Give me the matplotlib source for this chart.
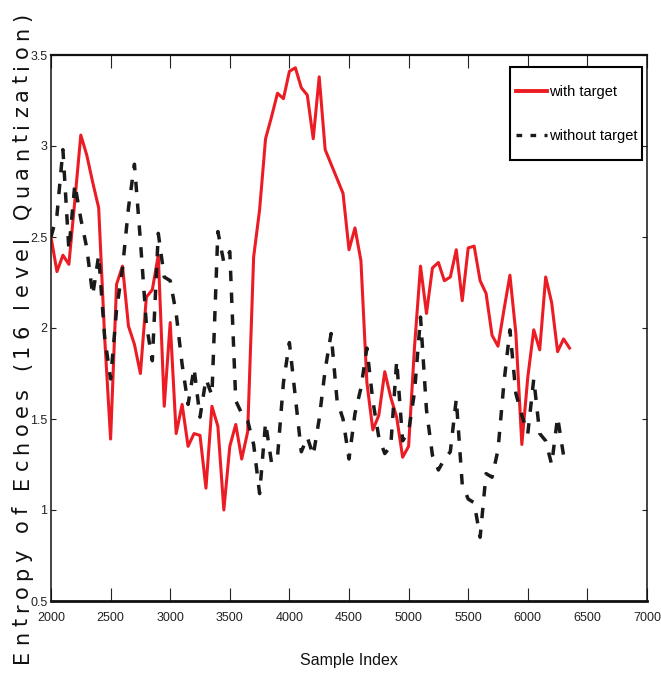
import numpy as np
import matplotlib
matplotlib.use("Agg")
import matplotlib.pyplot as plt
from matplotlib.lines import Line2D
from matplotlib.patches import Rectangle
from matplotlib.font_manager import FontProperties, findfont
from matplotlib.ft2font import FT2Font

W, H = 661, 679

# Sample index grid (every 50 samples from 2000)
x_start, x_step = 2000, 50

with_target = [
    2.50, 2.31, 2.40, 2.35, 2.70, 3.06, 2.95, 2.80, 2.66, 1.95,
    1.39, 2.24, 2.34, 2.01, 1.91, 1.75, 2.17, 2.21, 2.40, 1.57,
    2.03, 1.42, 1.58, 1.35, 1.42, 1.41, 1.12, 1.57, 1.46, 1.00,
    1.35, 1.47, 1.28, 1.43, 2.39, 2.65, 3.04, 3.16, 3.29, 3.26,
    3.41, 3.43, 3.32, 3.28, 3.04, 3.38, 2.98, 2.90, 2.82, 2.74,
    2.43, 2.55, 2.37, 1.70, 1.44, 1.52, 1.76, 1.62, 1.51, 1.29,
    1.35, 1.90, 2.34, 2.08, 2.33, 2.36, 2.26, 2.28, 2.43, 2.15,
    2.44, 2.45, 2.26, 2.19, 1.96, 1.90, 2.10, 2.29, 1.97, 1.36,
    1.73, 1.99, 1.88, 2.28, 2.14, 1.87, 1.94, 1.89,
]

without_target = [
    2.50, 2.62, 2.98, 2.43, 2.79, 2.60, 2.44, 2.18, 2.40, 1.95,
    1.72, 2.10, 2.33, 2.66, 2.90, 2.48, 2.02, 1.82, 2.52, 2.28,
    2.26, 2.08, 1.80, 1.58, 1.78, 1.51, 1.72, 1.63, 2.53, 2.36,
    2.42, 1.60, 1.53, 1.49, 1.36, 1.09, 1.48, 1.26, 1.29, 1.70,
    1.92, 1.62, 1.32, 1.40, 1.30, 1.50, 1.77, 1.97, 1.60, 1.50,
    1.28, 1.53, 1.67, 1.89, 1.60, 1.40, 1.31, 1.35, 1.82, 1.38,
    1.43, 1.65, 2.06, 1.55, 1.30, 1.22, 1.28, 1.32, 1.61, 1.14,
    1.06, 1.04, 0.85, 1.20, 1.18, 1.33, 1.70, 1.99, 1.64, 1.52,
    1.42, 1.72, 1.42, 1.38, 1.25, 1.51, 1.30, 1.33,
]

x_ticks = [2000, 2500, 3000, 3500, 4000, 4500, 5000, 5500, 6000, 6500, 7000]
y_ticks = [0.5, 1.0, 1.5, 2.0, 2.5, 3.0, 3.5]
y_tick_labels = ["0.5", "1", "1.5", "2", "2.5", "3", "3.5"]
x_label = "Sample Index"
y_label = "Entropy of Echoes (16 level Quantization)"
legend_labels = ["with target", "without target"]

RED = "#ec1c24"
DARK = "#1a1a1a"
narrow = ["Liberation Sans Narrow", "Liberation Sans", "DejaVu Sans"]

fig = plt.figure(figsize=(W / 100, H / 100), dpi=100)
ax = fig.add_axes([51 / W, 1 - 601 / H, 596 / W, 546 / H])

x = x_start + x_step * np.arange(len(with_target))
ax.plot(x, with_target, color=RED, lw=2.2, solid_joinstyle="round")
ax.plot(x, without_target, color=DARK, lw=2.5, linestyle=(0, (3.0, 3.3)),
        dash_capstyle="butt")

ax.set_xlim(2000, 7000)
ax.set_ylim(0.5, 3.5)
ax.set_xticks(x_ticks)
ax.set_xticklabels([str(t) for t in x_ticks])
ax.set_yticks(y_ticks)
ax.set_yticklabels(y_tick_labels)

ax.tick_params(direction="in", top=True, right=True, width=0.8, colors="#222222")
ax.tick_params(axis="x", length=9.4, pad=8, labelsize=9)
ax.tick_params(axis="y", length=3.6, pad=2.5, labelsize=9)
for lab in ax.get_xticklabels() + ax.get_yticklabels():
    lab.set_fontfamily(narrow)

for side, lw in (("bottom", 2.0), ("top", 1.6), ("left", 1.1), ("right", 1.1)):
    ax.spines[side].set_linewidth(lw)
    ax.spines[side].set_color("#111111")

# x axis title
fig.text(349 / W, 1 - 660 / H, x_label, ha="center", va="center",
         fontsize=11.5, family=narrow, color="#111111")

# y axis title, letter-spaced along the full height
yl_size = 15
fp = FontProperties(family="DejaVu Sans", size=yl_size)
ft = FT2Font(findfont(fp))
ft.set_size(yl_size, 100)
adv = [ft.load_char(ord(c)).linearHoriAdvance / 65536.0 for c in y_label]
span = 650.0
extra = (span - sum(adv)) / (len(y_label) - 1)
pos = 0.0
for c, a in zip(y_label, adv):
    fig.text(28 / W, 1 - (663 - pos) / H, c, rotation=90, rotation_mode="anchor",
             ha="left", va="baseline", fontproperties=fp, color="#111111")
    pos += a + extra

# legend: framed box with two entries
def ax_fx(px):
    return (px - 51) / 596.0


def ax_fy(py):
    return (601 - py) / 546.0


box = Rectangle((ax_fx(510), ax_fy(160)), ax_fx(642) - ax_fx(510),
                ax_fy(67) - ax_fy(160), transform=ax.transAxes,
                facecolor="white", edgecolor="black", lw=1.5, zorder=4)
ax.add_patch(box)

handles = [
    Line2D([], [], color=RED, lw=2.8),
    Line2D([], [], color=DARK, lw=2.4, linestyle=(0, (1.7, 2.5)), dash_capstyle="butt"),
]
leg = ax.legend(handles, legend_labels, loc="upper left",
                bbox_to_anchor=(ax_fx(516), ax_fy(85)), borderaxespad=0,
                frameon=False, prop=FontProperties(family=narrow, size=10.5),
                handlelength=2.1, handletextpad=0.15, labelspacing=2.05,
                borderpad=0)
leg.set_zorder(5)

fig.savefig("out.png", dpi=100)
